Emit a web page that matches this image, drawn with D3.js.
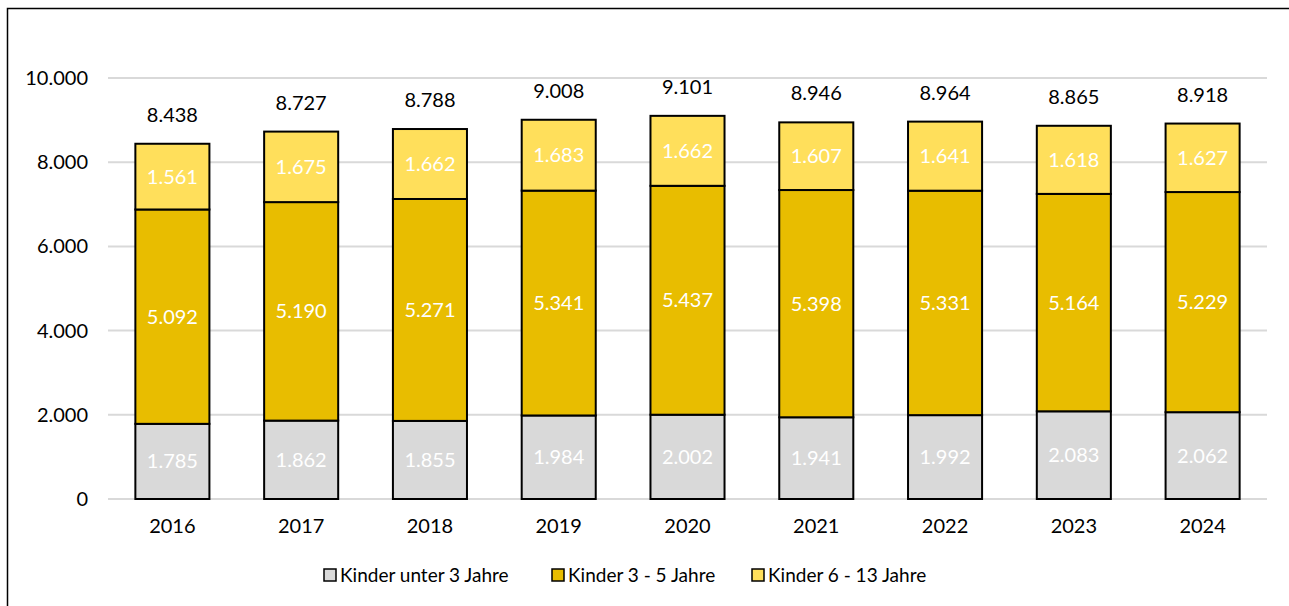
<!DOCTYPE html>
<html>
<head>
<meta charset="utf-8">
<title>Kinder</title>
<script src="https://cdn.jsdelivr.net/npm/d3@7"></script>
<style>
  html, body { margin: 0; background: #fff; overflow: hidden; font-family: Lato, "Open Sans", sans-serif; }
  svg { display: block; }
</style>
</head>
<body>
<svg id="chart" width="1289" height="606"></svg>
<script>
var years = ["2016", "2017", "2018", "2019", "2020", "2021", "2022", "2023", "2024"];
var unter3 = [1785, 1862, 1855, 1984, 2002, 1941, 1992, 2083, 2062];
var drei5 = [5092, 5190, 5271, 5341, 5437, 5398, 5331, 5164, 5229];
var sechs13 = [1561, 1675, 1662, 1683, 1662, 1607, 1641, 1618, 1627];
var totals = [8438, 8727, 8788, 9008, 9101, 8946, 8964, 8865, 8918];
var seriesNames = ["Kinder unter 3 Jahre", "Kinder 3 - 5 Jahre", "Kinder 6 - 13 Jahre"];
var yTicks = [0, 2000, 4000, 6000, 8000, 10000];

var colors = ["#d9d9d9", "#e8bd00", "#ffdf5b"];
var fmt = function(v) { return d3.format(",")(v).replace(/,/g, "."); };

var svg = d3.select("#chart");

// frame (only top and left edges are inside the picture)
svg.append("path").attr("d", "M7.5,606V8.5H1289")
  .attr("fill", "none").attr("stroke", "#000").attr("stroke-width", 1.5);

var x = d3.scaleBand().domain(years).range([108, 1267]).paddingInner(0.425).paddingOuter(0.2125);
var y = d3.scaleLinear().domain([0, 10000]).range([499, 78]);

// grid
svg.append("g").selectAll("line").data(yTicks).join("line")
  .attr("x1", 108).attr("x2", 1267)
  .attr("y1", function(d) { return y(d); }).attr("y2", function(d) { return y(d); })
  .attr("stroke", "#d9d9d9").attr("stroke-width", 2);

svg.append("g").selectAll("text").data(yTicks).join("text")
  .attr("x", 88).attr("y", function(d) { return y(d); }).attr("dy", "0.35em")
  .attr("text-anchor", "end").attr("font-size", 20).attr("fill", "#000")
  .text(fmt);

var rows = years.map(function(yr, i) {
  return { year: yr, a: unter3[i], b: drei5[i], c: sechs13[i] };
});
var stack = d3.stack().keys(["a", "b", "c"])(rows);

var groups = svg.append("g").selectAll("g").data(stack).join("g")
  .attr("fill", function(d, i) { return colors[i]; });

groups.selectAll("rect").data(function(d) { return d; }).join("rect")
  .attr("x", function(d) { return x(d.data.year); })
  .attr("width", x.bandwidth())
  .attr("y", function(d) { return y(d[1]); })
  .attr("height", function(d) { return y(d[0]) - y(d[1]); })
  .attr("stroke", "#000").attr("stroke-width", 2);

groups.selectAll("text").data(function(d) { return d; }).join("text")
  .attr("x", function(d) { return x(d.data.year) + x.bandwidth() / 2; })
  .attr("y", function(d) { return (y(d[0]) + y(d[1])) / 2; })
  .attr("dy", "0.35em").attr("text-anchor", "middle")
  .attr("font-size", 20).attr("fill", "#fff")
  .text(function(d) { return fmt(d[1] - d[0]); });

// totals
svg.append("g").selectAll("text").data(years).join("text")
  .attr("x", function(d) { return x(d) + x.bandwidth() / 2; })
  .attr("y", function(d, i) { return y(totals[i]) - 22; })
  .attr("text-anchor", "middle").attr("font-size", 20).attr("fill", "#000")
  .text(function(d, i) { return fmt(totals[i]); });

// x axis labels
svg.append("g").selectAll("text").data(years).join("text")
  .attr("x", function(d) { return x(d) + x.bandwidth() / 2; })
  .attr("y", 533).attr("text-anchor", "middle").attr("font-size", 20).attr("fill", "#000")
  .text(function(d) { return d; });

// legend
var legX = [324, 552, 752];
var leg = svg.append("g").selectAll("g").data(seriesNames).join("g")
  .attr("transform", function(d, i) { return "translate(" + legX[i] + ",575)"; });
leg.append("rect").attr("x", 0).attr("y", -6).attr("width", 12).attr("height", 12)
  .attr("fill", function(d, i) { return colors[i]; }).attr("stroke", "#000").attr("stroke-width", 1.5);
leg.append("text").attr("x", 16).attr("dy", "0.35em").attr("font-size", 19).attr("fill", "#000")
  .text(function(d) { return d; });
</script>
</body>
</html>
